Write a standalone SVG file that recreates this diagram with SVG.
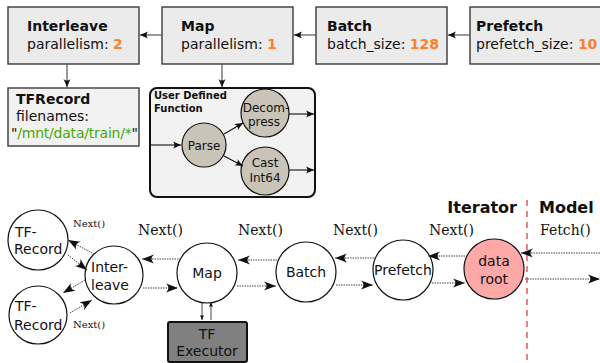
<svg xmlns="http://www.w3.org/2000/svg" width="600" height="363" viewBox="0 0 600 363">
<style>
.box{fill:#ebebeb;stroke:#3a3a3a;stroke-width:1.4}
.box2{fill:#f2f2f2;stroke:#3a3a3a;stroke-width:1.4}
.t{font-family:"DejaVu Sans",sans-serif;font-size:14px;fill:#111}
.b{font-weight:bold}
.o{fill:#ff7f2a;font-weight:bold}
.g{fill:#44aa00}
.ser{font-family:"DejaVu Serif",serif;fill:#111}
.node{fill:#fff;stroke:#111;stroke-width:1.2}
.udfc{fill:#c9c4b7;stroke:#111;stroke-width:1.2}
.solid{stroke:#555;stroke-width:1.2;fill:none;marker-end:url(#ah)}
.blk{stroke:#111;stroke-width:1.1;fill:none;marker-end:url(#ah)}
.dot{stroke:#444;stroke-width:1;stroke-dasharray:1.5,1;fill:none;marker-end:url(#ahL)}
.thin{stroke:#333;stroke-width:0.9;fill:none;marker-end:url(#ahS)}
.c{text-anchor:middle}
</style>
<defs>
<marker id="ah" viewBox="-9 -4 10 8" markerWidth="10" markerHeight="8" refX="0" refY="0" orient="auto" markerUnits="userSpaceOnUse"><path d="M0,0 L-8,-3.5 Q-5,0 -8,3.5 Z" fill="#111"/></marker>
<marker id="ahL" viewBox="-13 -5 14 10" markerWidth="14" markerHeight="10" refX="0" refY="0" orient="auto" markerUnits="userSpaceOnUse"><path d="M0,0 L-12,-4.5 Q-7,0 -12,4.5 Z" fill="#111"/></marker>
<marker id="ahS" viewBox="-6 -3 7 6" markerWidth="7" markerHeight="6" refX="0" refY="0" orient="auto" markerUnits="userSpaceOnUse"><path d="M0,0 L-5,-2 Q-3.5,0 -5,2 Z" fill="#111"/></marker>
</defs>

<g id="interleave-box"><rect class="box" x="8" y="7" width="131" height="57"/><text class="t b" x="27" y="31">Interleave</text><text class="t" x="27" y="49">parallelism: <tspan class="o">2</tspan></text></g>
<g id="map-box"><rect class="box" x="162" y="7" width="131" height="57"/><text class="t b" x="181" y="31">Map</text><text class="t" x="181" y="49">parallelism: <tspan class="o">1</tspan></text></g>
<g id="batch-box"><rect class="box" x="316" y="7" width="131" height="57"/><text class="t b" x="327" y="31">Batch</text><text class="t" x="327" y="49">batch_size: <tspan class="o">128</tspan></text></g>
<g id="prefetch-box"><rect class="box" x="470" y="7" width="140" height="57"/><text class="t b" x="476" y="31">Prefetch</text><text class="t" x="476" y="49">prefetch_size: <tspan class="o">10</tspan></text></g>
<g id="tfrecord-box"><rect class="box2" x="8" y="88" width="131" height="58"/><text class="t b" x="16" y="104">TFRecord</text><text class="t" x="16" y="121">filenames:</text><text class="t" x="11" y="138" textLength="127">"<tspan class="g">/mnt/data/train/*</tspan>"</text></g>

<g id="udf">
<rect x="150" y="88" width="165" height="109" rx="7" fill="#f2f2f2" stroke="#111" stroke-width="2"/>
<text class="t b" x="154" y="99" style="font-size:10px">User Defined</text>
<text class="t b" x="154" y="112" style="font-size:10px">Function</text>
<g id="parse"><circle class="udfc" cx="204" cy="145" r="22"/><text class="t c" x="204" y="150" style="font-size:12px">Parse</text></g>
<g id="decompress"><circle class="udfc" cx="265" cy="113" r="24"/><text class="t c" x="266" y="112" style="font-size:12px">Decom-</text><text class="t c" x="264" y="126" style="font-size:12px">press</text></g>
<g id="cast"><circle class="udfc" cx="265" cy="171" r="24"/><text class="t c" x="265" y="167" style="font-size:12px">Cast</text><text class="t c" x="265" y="182" style="font-size:12px">Int64</text></g>
</g>

<g id="tfr1"><circle class="node" cx="38" cy="240" r="30"/><text class="t" x="15" y="237">TF-</text><text class="t" x="14" y="254">Record</text></g>
<g id="tfr2"><circle class="node" cx="38" cy="315" r="29"/><text class="t" x="15" y="311">TF-</text><text class="t" x="14" y="330">Record</text></g>
<g id="interleave"><circle class="node" cx="114" cy="275" r="29"/><text class="t" x="91" y="272">Inter-</text><text class="t" x="91" y="290">leave</text></g>
<g id="map"><circle class="node" cx="207" cy="273" r="30"/><text class="t c" x="207" y="278">Map</text></g>
<g id="batch"><circle class="node" cx="306" cy="272" r="30"/><text class="t c" x="306" y="277">Batch</text></g>
<g id="prefetch"><circle class="node" cx="403" cy="270" r="30"/><text class="t c" x="403" y="275">Prefetch</text></g>
<g id="dataroot"><circle cx="494" cy="269" r="30" fill="#ffa8a8" stroke="#111" stroke-width="1.2"/><text class="t c" x="494" y="266">data</text><text class="t c" x="494" y="284">root</text></g>
<g id="executor"><rect x="168" y="322" width="79" height="40" rx="2" fill="#808080" stroke="#111" stroke-width="2"/><text class="t c" x="207" y="339">TF</text><text class="t c" x="207" y="356">Executor</text></g>

<g id="labels">
<text class="ser" x="138" y="235" font-size="14">Next()</text>
<text class="ser" x="238" y="235" font-size="14">Next()</text>
<text class="ser" x="333" y="235" font-size="14">Next()</text>
<text class="ser" x="429" y="235" font-size="14">Next()</text>
<text class="ser" x="540" y="235" font-size="14">Fetch()</text>
<text class="ser" x="73" y="227" font-size="10">Next()</text>
<text class="ser" x="73" y="328" font-size="10">Next()</text>
<text class="t b" x="517" y="213" text-anchor="end" style="font-size:16px">Iterator</text>
<text class="t b" x="539" y="213" style="font-size:16px">Model</text>
<line x1="527" y1="200" x2="527" y2="363" stroke="#e8585a" stroke-width="1.5" stroke-dasharray="6,5"/>
</g>

<g id="connectors">
<path class="solid" d="M162,35 L140,35"/>
<path class="solid" d="M316,35 L294,35"/>
<path class="solid" d="M470,35 L448,35"/>
<path class="solid" d="M67,64 L67,87"/>
<path class="solid" d="M222,64 L222,87"/>
<path class="blk" d="M150,145 L181,145"/>
<path class="blk" d="M224,134 L243,123"/>
<path class="blk" d="M224,156 L243,166"/>
<path class="blk" d="M289,114 L314,114"/>
<path class="blk" d="M289,170 L314,170"/>
<path class="dot" d="M181,259 L142,259"/>
<path class="dot" d="M143,288 L178,288"/>
<path class="dot" d="M277,260 L238,260"/>
<path class="dot" d="M237,286 L276,286"/>
<path class="dot" d="M374,258 L335,258"/>
<path class="dot" d="M336,285 L373,285"/>
<path class="dot" d="M465,256 L428,256"/>
<path class="dot" d="M432,283 L465,283"/>
<path class="dot" d="M600,253 L521,253"/>
<path class="dot" d="M525,279 L600,279"/>
<path class="dot" d="M92,253 L68,240"/>
<path class="dot" d="M68,255 L87,270"/>
<path class="dot" d="M85,280 L63,293"/>
<path class="dot" d="M70,313 L92,300"/>
<path class="thin" d="M202,302 L202,320"/>
<path class="thin" d="M211,320 L211,302"/>
</g>
</svg>
